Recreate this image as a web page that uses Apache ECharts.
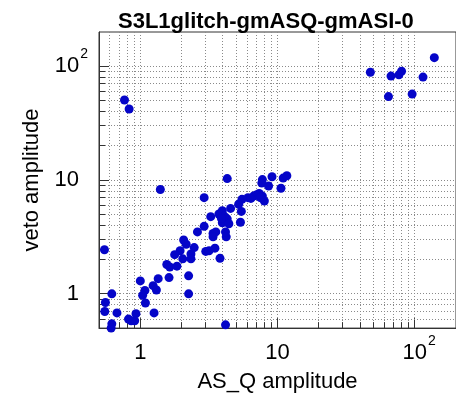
<!DOCTYPE html>
<html>
<head>
<meta charset="utf-8">
<script src="https://cdn.jsdelivr.net/npm/echarts@6/dist/echarts.min.js"></script>
<style>html,body{margin:0;padding:0;background:#fff}#c{width:456px;height:398px}</style>
</head>
<body>
<div id="c"></div>
<script>
// ---- data ----
const titleText = 'S3L1glitch-gmASQ-gmASI-0';
const xName = 'AS_Q amplitude';
const yName = 'veto amplitude';
const axisMin = 0.5;
const axisMax = 200;
const ampQ = [
  139, 47.5, 67.2, 76.7, 80.2, 115, 64.4, 95.8, 0.767, 0.829,
  4.30, 1.40, 2.92, 7.76, 7.68, 9.12, 11.0, 11.7, 8.61, 10.6,
  5.51, 6.09, 6.69, 7.35, 7.76, 8.02, 5.21, 7.0, 7.5, 6.4,
  3.96, 4.55, 3.74, 3.26, 5.45, 4.30, 5.37, 3.96, 4.42, 2.92, 2.61, 4.1, 3.9,
  3.39, 3.55, 3.39, 4.23, 4.18, 2.07, 2.16, 2.47, 1.95, 1.78, 2.34, 2.04, 2.34,
  3.0, 3.17, 3.50, 3.81, 1.56, 1.64, 1.85, 1.62, 2.25, 2.25, 1.35, 1.0, 1.24,
  1.31, 1.08, 1.04, 1.09, 1.26, 0.93, 0.91, 0.82, 0.857, 0.676, 0.62, 0.557,
  0.551, 0.62, 0.613, 0.548, 4.18
];
const vetoAmp = [
  119, 88.6, 81.9, 84, 90.4, 80.3, 54.1, 56.9, 50.5, 42.1,
  10.3, 8.26, 7.0, 10.1, 9.4, 10.7, 10.4, 10.9, 8.87, 8.47,
  6.77, 7.0, 7.23, 7.63, 7.23, 6.55, 6.13, 7.4, 7.0, 6.9,
  5.37, 5.63, 5.03, 4.77, 5.30, 4.56, 4.26, 4.21, 4.13, 3.92, 3.50, 4.8, 4.6,
  3.39, 3.50, 3.17, 3.17, 3.5, 2.97, 2.73, 2.55, 2.39, 2.21, 2.24, 2.03, 2.03,
  2.36, 2.39, 2.52, 2.05, 1.81, 1.72, 1.75, 1.39, 1.44, 1.0, 1.36, 1.30, 1.18,
  1.08, 1.07, 0.97, 0.83, 0.68, 0.67, 0.58, 0.60, 0.58, 0.68, 1.0, 0.84,
  0.70, 0.545, 0.50, 2.44, 0.534
];
// grid/tick positions: 1..9 x each decade inside the axis range
const decades = [0.1, 1, 10, 100];
const mults = [1, 2, 3, 4, 5, 6, 7, 8, 9];

// ---- build ----
const gridVals = [];
decades.forEach(d => mults.forEach(m => {
  const v = +(d * m).toPrecision(6);
  if (v > axisMin + 1e-9 && v < axisMax - 1e-9) gridVals.push(v);
}));
const isPow10 = v => Math.abs(Math.log10(v) - Math.round(Math.log10(v))) < 1e-9;
const points = ampQ.map((x, i) => [x, vetoAmp[i]]);

const FONT = 'Liberation Sans';
const rich = {
  n: {fontSize: 22, fontFamily: FONT, color: '#000', lineHeight: 26},
  s: {fontSize: 14, fontFamily: FONT, color: '#000', verticalAlign: 'bottom', padding: [0, 0, 18, 1], lineHeight: 14},
  sp: {width: 9, fontSize: 14}
};
function yLabel(v) {
  if (!isPow10(v)) return '';
  const e = Math.round(Math.log10(v));
  if (e === 0) return '{n|1}{sp|}';
  if (e === 1) return '{n|10}{sp|}';
  return '{n|10}{s|' + e + '}';
}
function xLabel(v) {
  if (!isPow10(v)) return '';
  const e = Math.round(Math.log10(v));
  if (e === 0) return '{n|1}';
  if (e === 1) return '{n|10}';
  return '{sp|}{n|10}{s|' + e + '}';
}
const crisp = a => Math.round(a - 0.5) + 0.5;
const dotStyle = {stroke: '#8a8a8a', lineWidth: 1, lineDash: [1, 2]};
const tickStyle = {stroke: '#333', lineWidth: 1};

const chart = echarts.init(document.getElementById('c'), null, {renderer: 'canvas'});
chart.setOption({
  animation: false,
  backgroundColor: '#fff',
  title: {
    text: titleText, left: 113, top: 6,
    textStyle: {fontFamily: FONT, fontSize: 22, fontWeight: 'bold', color: '#000'}
  },
  grid: {left: 99, top: 32, width: 362, height: 303, show: true, borderColor: '#333', borderWidth: 1, backgroundColor: '#fff'},
  xAxis: {
    type: 'log', logBase: 10, min: axisMin, max: axisMax,
    name: xName, nameLocation: 'middle', nameGap: 38,
    nameTextStyle: {fontFamily: FONT, fontSize: 22, color: '#000'},
    axisLine: {show: true, lineStyle: {color: '#333'}},
    axisTick: {show: false},
    splitLine: {show: false},
    axisLabel: {margin: 12, formatter: xLabel, rich: rich, showMinLabel: false, showMaxLabel: false}
  },
  yAxis: {
    type: 'log', logBase: 10, min: axisMin, max: axisMax,
    name: yName, nameLocation: 'middle', nameGap: 56, nameRotate: 90,
    nameTextStyle: {fontFamily: FONT, fontSize: 22, color: '#000'},
    axisLine: {show: true, lineStyle: {color: '#333'}},
    axisTick: {show: false},
    splitLine: {show: false},
    axisLabel: {margin: 11, formatter: yLabel, rich: rich, showMinLabel: false, showMaxLabel: false}
  },
  series: [
    {
      type: 'custom', silent: true, z: 1,
      data: gridVals.map(v => [v, axisMin]),
      renderItem: function (params, api) {
        const v = api.value(0);
        const top = api.coord([v, axisMax]);
        const bot = api.coord([v, axisMin]);
        const x = crisp(top[0]);
        const len = isPow10(v) ? 10 : 6;
        return {type: 'group', children: [
          {type: 'line', shape: {x1: x, y1: top[1], x2: x, y2: bot[1]}, style: dotStyle},
          {type: 'line', shape: {x1: x, y1: bot[1], x2: x, y2: bot[1] - len}, style: tickStyle}
        ]};
      }
    },
    {
      type: 'custom', silent: true, z: 1,
      data: gridVals.map(v => [axisMin, v]),
      renderItem: function (params, api) {
        const v = api.value(1);
        const l = api.coord([axisMin, v]);
        const r = api.coord([axisMax, v]);
        const y = crisp(l[1]);
        const len = isPow10(v) ? 10 : 6;
        return {type: 'group', children: [
          {type: 'line', shape: {x1: l[0], y1: y, x2: r[0], y2: y}, style: dotStyle},
          {type: 'line', shape: {x1: l[0], y1: y, x2: l[0] + len, y2: y}, style: tickStyle}
        ]};
      }
    },
    {
      type: 'scatter', z: 5,
      data: points,
      symbol: 'circle', symbolSize: 9,
      itemStyle: {color: '#0505c8', opacity: 1}
    }
  ]
});
</script>
</body>
</html>
